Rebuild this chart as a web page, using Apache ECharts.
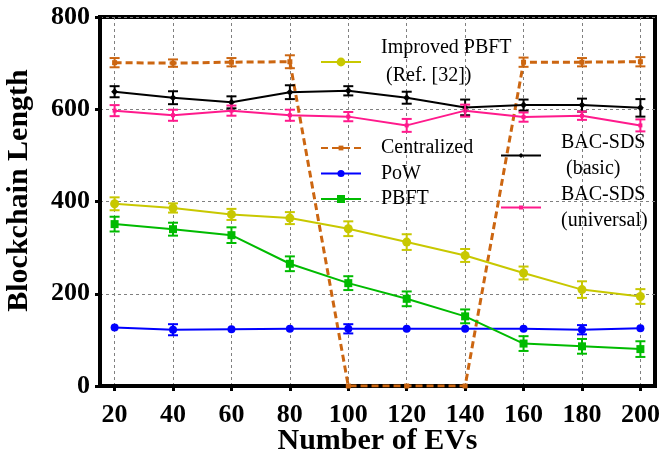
<!DOCTYPE html>
<html><head><meta charset="utf-8">
<script src="https://cdn.jsdelivr.net/npm/echarts@6/dist/echarts.min.js"></script>
<style>html,body{margin:0;padding:0;background:#fff}#c{width:661px;height:463px}</style>
</head><body><div id="c"></div>
<script>
const evCounts = [20,40,60,80,100,120,140,160,180,200];
const yTicks = [0,200,400,600,800];
const improvedPbft = [395,386,372,364,341,312,283,245,209,194];
const improvedPbftErr = [14,10,12,13,16,17,14,14,18,16];
const centralized = [701,700,702,703,0,0,0,702,702,703];
const centralizedErr = [10,8,9,14,0,0,0,10,9,10];
const pow = [127,122,123,124,124,124,124,124,122,125];
const powErr = [0,12,0,0,10,0,0,0,10,0];
const pbft = [351,340,327,265,223,189,151,92,86,80];
const pbftErr = [16,14,17,16,15,16,15,16,16,17];
const basic = [638,625,615,637,640,625,604,609,609,603];
const basicErr = [12,14,13,15,10,13,17,12,14,19];
const universal = [597,587,597,587,584,565,597,583,586,565];
const universalErr = [12,12,11,12,10,14,13,10,9,13];

const FONT = '"Liberation Serif","Times New Roman",serif';
const names = {
  imp: 'Improved PBFT\n (Ref. [32])',
  cen: 'Centralized',
  pow: 'PoW',
  pbft: 'PBFT',
  basic: 'BAC-SDS\n (basic)',
  uni: 'BAC-SDS\n(universal)'
};
const colors = {imp:'#C8C800', cen:'#CC6611', pow:'#0000FF', pbft:'#00BB00', basic:'#000000', uni:'#FF1A8C'};

function lineSeries(name, vals, color, symbol, size, extra) {
  return Object.assign({
    type:'line', name, data: evCounts.map((x,i)=>[x, vals[i]]),
    symbol, symbolSize:size, showSymbol:true, color,
    lineStyle:{color, width:2}, itemStyle:{color}, z:3, animation:false
  }, extra||{});
}
function errSeries(vals, errs, color) {
  return {
    type:'custom', silent:true, z:4, animation:false,
    data: evCounts.map((x,i)=>[x, vals[i], errs[i]]),
    encode:{x:0, y:1},
    renderItem(params, api) {
      const x = api.value(0), y = api.value(1), e = api.value(2);
      if (!e) return null;
      const t = api.coord([x, y+e]), b = api.coord([x, y-e]);
      const w = 5, st = {stroke:color, lineWidth:2};
      return {type:'group', children:[
        {type:'line', shape:{x1:t[0],y1:t[1],x2:b[0],y2:b[1]}, style:st},
        {type:'line', shape:{x1:t[0]-w,y1:t[1],x2:t[0]+w,y2:t[1]}, style:st},
        {type:'line', shape:{x1:b[0]-w,y1:b[1],x2:b[0]+w,y2:b[1]}, style:st}
      ]};
    }
  };
}
function legend(name, left, center, itemHeight, lines, lh) {
  const h = Math.max(itemHeight, lines*lh);
  return {
    data:[name], left, top: center - h/2, orient:'vertical', padding:0,
    itemWidth:40, itemHeight, itemGap:0, selectedMode:false,
    textStyle:{fontFamily:FONT, fontSize:20, color:'#000', lineHeight:lh, padding:[0,0,0,15]}
  };
}

const chart = echarts.init(document.getElementById('c'));
chart.setOption({
  backgroundColor:'#fff',
  animation:false,
  grid:{left:100, right:6, top:17, bottom:77, show:true, borderColor:'#000', borderWidth:4, outerBoundsMode:'none', containLabel:false},
  xAxis:{
    type:'value', min:15, max:205,
    axisLine:{show:true, onZero:false, lineStyle:{color:'#000', width:4}},
    axisTick:{show:true, customValues:evCounts, length:5, inside:false, lineStyle:{color:'#000', width:3}},
    axisLabel:{customValues:evCounts, fontFamily:FONT, fontWeight:'bold', fontSize:26, color:'#000', margin:16},
    splitLine:{show:true, lineStyle:{color:'#808080', width:1, type:[3,3]}},
    name:'Number of EVs', nameLocation:'middle', nameGap:40, nameMoveOverlap:false,
    nameTextStyle:{fontFamily:FONT, fontWeight:'bold', fontSize:30, color:'#000'}
  },
  yAxis:{
    type:'value', min:yTicks[0], max:yTicks[yTicks.length-1], interval:200,
    axisLine:{show:true, lineStyle:{color:'#000', width:4}},
    axisTick:{show:true, length:5, inside:false, lineStyle:{color:'#000', width:3}},
    axisLabel:{fontFamily:FONT, fontWeight:'bold', fontSize:26, color:'#000', margin:10},
    splitLine:{show:true, lineStyle:{color:'#808080', width:1, type:[3,3]}},
    name:'Blockchain Length', nameLocation:'middle', nameGap:66,
    nameTextStyle:{fontFamily:FONT, fontWeight:'bold', fontSize:30, color:'#000', padding:[0,0,0,22]}
  },
  legend:[
    legend(names.imp, 320, 62, 11, 2, 28),
    legend(names.cen, 320, 148, 6, 1, 22),
    legend(names.pow, 320, 173.5, 9, 1, 22),
    legend(names.pbft, 320, 199, 10, 1, 22),
    legend(names.basic, 500, 155.5, 6, 2, 26),
    legend(names.uni, 500, 207.5, 5, 2, 26)
  ],
  series:[
    lineSeries(names.cen, centralized, colors.cen, 'rect', 5, {lineStyle:{color:colors.cen, width:3, type:[7,4]}}),
    lineSeries(names.imp, improvedPbft, colors.imp, 'circle', 9),
    lineSeries(names.pow, pow, colors.pow, 'circle', 8),
    lineSeries(names.pbft, pbft, colors.pbft, 'rect', 8),
    lineSeries(names.basic, basic, colors.basic, 'diamond', 7),
    lineSeries(names.uni, universal, colors.uni, 'rect', 4),
    errSeries(centralized, centralizedErr, colors.cen),
    errSeries(improvedPbft, improvedPbftErr, colors.imp),
    errSeries(pow, powErr, colors.pow),
    errSeries(pbft, pbftErr, colors.pbft),
    errSeries(basic, basicErr, colors.basic),
    errSeries(universal, universalErr, colors.uni)
  ]
});
</script></body></html>
